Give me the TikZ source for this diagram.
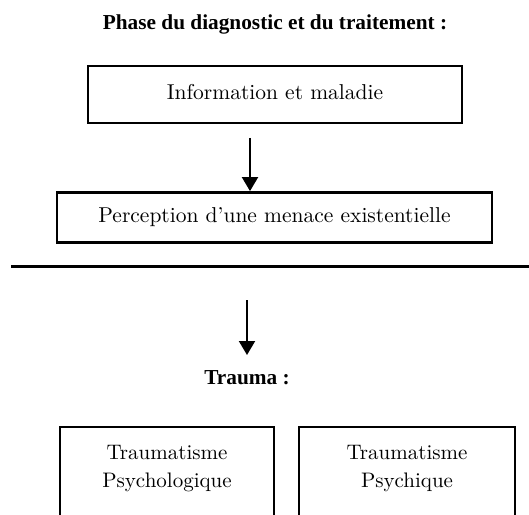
\documentclass[tikz,border=0pt]{standalone}
\usepackage{fontspec}
\newfontfamily\titlefont{Liberation Serif}
\newfontfamily\boxfont{lmroman10-regular.otf}
\usetikzlibrary{arrows.meta, calc}

\begin{document}
\begin{tikzpicture}[x=1pt, y=-1pt, line join=miter,
  box/.style={draw, line width=1.8pt, inner sep=0pt, text height=15pt, text depth=4.5pt,
    font=\boxfont\fontsize{21.5}{28}\selectfont},
  heading/.style={anchor=base, inner sep=0pt, font=\titlefont\bfseries\fontsize{21.3}{25}\selectfont},
  plain/.style={align=center, inner sep=0pt, font=\boxfont\fontsize{21}{28}\selectfont},
  arr/.style={line width=2pt, -{Triangle[width=16pt, length=14pt]}},
  cut/.style={line width=2.4pt}]
  % Fix the page size and cut the lower boxes
  \path[use as bounding box, clip] (0,0) rectangle (529,514);

  % Title of the first phase
  \node[heading] (phase) at (275,29) {Phase du diagnostic et du traitement :};

  % The two boxes of the first phase
  \node[box, minimum width=374pt, minimum height=57pt] (info) at (275,94.5) {Information et maladie};
  \node[box, line width=2.8pt, minimum width=435pt, minimum height=50pt] (menace) at (274.5,217.5)
    {Perception d’une menace existentielle};

  % Arrow between them
  \coordinate (a1) at ($(info.south)+(-25,14)$);
  \draw[arr] (a1) -- (a1 |- menace.north);

  % Separating rule
  \coordinate (ruleL) at (11,266.5);
  \coordinate (ruleR) at (529,266.5);
  \draw[line width=3.6pt] (ruleL) -- (ruleR);

  % Arrow down to the trauma
  \coordinate (a2) at (247,300);
  \coordinate (a2tip) at (247,355);
  \draw[arr] (a2) -- (a2tip);

  \node[heading] (trauma) at (247,384) {Trauma :};

  % Lower boxes, cut off at the page edge
  \draw[cut] (60,540) |- (274,427) -- (274,540);
  \draw[cut] (299,540) |- (515,427) -- (515,540);
  \node[plain] (psycho) at (167,469) {Traumatisme\\Psychologique};
  \node[plain] (psychi) at (407,469) {Traumatisme\\Psychique};
\end{tikzpicture}
\end{document}
